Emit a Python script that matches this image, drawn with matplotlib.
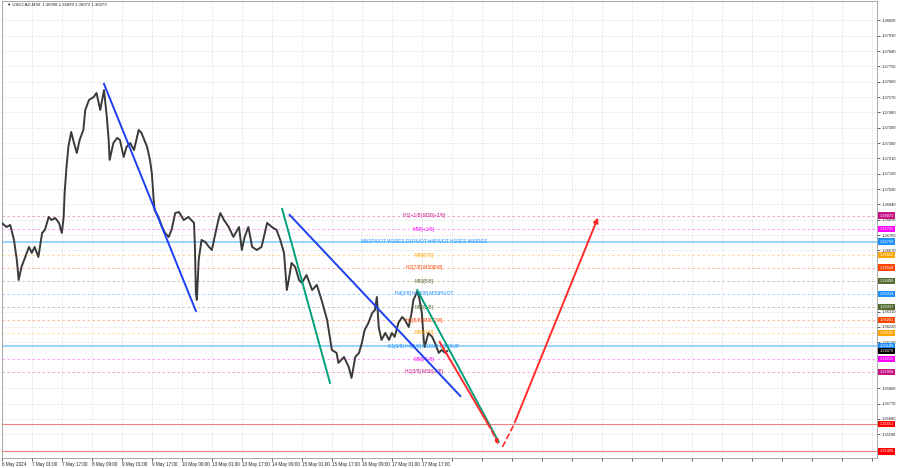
import matplotlib
matplotlib.use("Agg")
import matplotlib.pyplot as plt
import numpy as np

plt.rcParams['font.family'] = ['Liberation Sans', 'DejaVu Sans']

# USDCAD M30 closes, sampled (bar index, price)
bars = [0, 5, 9, 13, 16, 18, 21, 25, 29, 32, 35, 39, 43, 46, 50, 53, 57, 61, 64, 66,
        67, 69, 71, 74, 77, 80, 83, 87, 89, 93, 98, 101, 105, 109, 112, 114, 115, 119, 123, 126,
        130, 133, 137, 141, 146, 149, 155, 158, 160, 162, 163, 167, 171, 174, 178, 181, 185, 189, 194, 199,
        205, 206, 207, 208, 210, 213, 217, 221, 224, 227, 231, 233, 237, 242, 247, 253, 256, 259, 263, 267,
        272, 277, 283, 288, 293, 297, 301, 304, 306, 309, 313, 317, 320, 325, 331, 336, 341, 347, 352, 357,
        359, 365, 370, 373, 377, 381, 384, 387, 391, 395, 398, 400, 402, 405, 409, 413, 416, 419, 423, 427,
        430, 434, 437, 439, 443, 445, 448, 450, 451, 455, 459, 462, 466, 469, 473, 475]
closes = [1.36831, 1.36807, 1.36819, 1.36731, 1.36614, 1.36496, 1.36572, 1.36631, 1.36690, 1.36655,
          1.36690, 1.36631, 1.36772, 1.36790, 1.36866, 1.36848, 1.36860, 1.36831, 1.36772, 1.36866,
          1.37007, 1.37159, 1.37277, 1.37365, 1.37300, 1.37242, 1.37318, 1.37377, 1.37494, 1.37553,
          1.37570, 1.37594, 1.37494, 1.37611, 1.37453, 1.37318, 1.37201, 1.37300, 1.37330, 1.37318,
          1.37218, 1.37277, 1.37300, 1.37259, 1.37377, 1.37359, 1.37277, 1.37201, 1.37124, 1.36966,
          1.36907, 1.36866, 1.36807, 1.36772, 1.36749, 1.36790, 1.36889, 1.36895, 1.36848, 1.36866,
          1.36831, 1.36690, 1.36420, 1.36379, 1.36614, 1.36731, 1.36719, 1.36690, 1.36672, 1.36749,
          1.36848, 1.36889, 1.36848, 1.36807, 1.36749, 1.36807, 1.36672, 1.36749, 1.36807, 1.36690,
          1.36672, 1.36690, 1.36831, 1.36807, 1.36790, 1.36731, 1.36655, 1.36437, 1.36496, 1.36596,
          1.36572, 1.36496, 1.36479, 1.36525, 1.36437, 1.36467, 1.36379, 1.36261, 1.36085, 1.36068,
          1.36009, 1.36044, 1.35985, 1.35921, 1.36044, 1.36068, 1.36126, 1.36203, 1.36244, 1.36302,
          1.36320, 1.36396, 1.36220, 1.36144, 1.36185, 1.36144, 1.36185, 1.36162, 1.36244, 1.36279,
          1.36261, 1.36220, 1.36302, 1.36379, 1.36426, 1.36396, 1.36302, 1.36144, 1.36103, 1.36185,
          1.36162, 1.36126, 1.36068, 1.36085, 1.36068, 1.36079]

time_labels = ["6 May 2024", "7 May 01:00", "7 May 17:00", "8 May 09:00", "9 May 01:00",
               "9 May 17:00", "10 May 09:00", "13 May 01:00", "13 May 17:00", "14 May 09:00",
               "15 May 01:00", "15 May 17:00", "16 May 09:00", "17 May 01:00", "17 May 17:00"]

# Murrey / pivot levels
level_prices = [1.36873, 1.36795, 1.36720, 1.36642, 1.36568, 1.36490, 1.36414,
                1.36337, 1.36261, 1.36185, 1.36108, 1.36032, 1.35956]
level_texts = ["H1[+1/8] M30[+2/8]", "M30[+1/8]",
               "MN1PIVOT W1RES D1PIVOT H4PIVOT H1RES M30RES", "M30[7/8]",
               "H1[7/8] M30[6/8]", "M30[5/8]", "H4[3/8] H1[6/8] M30PIVOT", "M30[3/8]",
               "H1[5/8] M30[2/8]", "M30[1/8]", "D1[3/8] H4[2/8] H1SUP M30SUP",
               "M30[-1/8]", "H1[3/8] M30[-2/8]"]
level_colors = ["#C71585", "#FF00FF", "#1E90FF", "#FFA500", "#FF4500", "#556B2F", "#1E90FF",
                "#556B2F", "#FF4500", "#FFA500", "#1E90FF", "#FF00FF", "#C71585"]
target_prices = [1.35651, 1.35490]
last_price = 1.36079

# trend lines (bar, price)
blue_lines = [[(109, 1.37647), (207, 1.36314)], [(307, 1.36878), (489, 1.35815)]]
green_lines = [[(299, 1.36913), (350, 1.35892)], [(443, 1.36437), (530, 1.35545)]]
red_down = [(467, 1.36132), (521, 1.35627), (531, 1.35516)]
red_up = [(534, 1.35516), (546, 1.35645), (637, 1.36878)]

fig = plt.figure(figsize=(9, 4.68), dpi=100)
ax = fig.add_axes([0.002, 0.0214, 0.972, 0.9765])
ax.set_xlim(0, 933)
ax.set_ylim(1.35451, 1.38134)

# price scale, skipping the ticks hidden under a price tag
tagged = level_prices + target_prices + [last_price]
yt = [round(1.35500 + 0.0009 * i, 5) for i in range(29)]
yt = [v for v in yt if min(abs(v - p) for p in tagged) > 0.00016]
ax.set_yticks(yt)
ax.set_yticklabels(["%.5f" % v for v in yt])
xt = list(range(0, 933, 32))
ax.set_xticks(xt)
ax.set_xticklabels(time_labels + [""] * (len(xt) - len(time_labels)), ha='left')
ax.yaxis.tick_right()
ax.tick_params(axis='y', labelsize=2.9, length=2, pad=1.5, width=0.5, colors='#222222')
ax.tick_params(axis='x', labelsize=3.3, length=2, pad=1, width=0.5, colors='#222222')
ax.grid(True, color='#d8d8d8', linestyle=(0, (2, 2)), linewidth=0.5)
ax.set_axisbelow(True)
for s in ax.spines.values():
    s.set_color('#999999')
    s.set_linewidth(0.6)

# levels
for p, t, c in zip(level_prices, level_texts, level_colors):
    if t.startswith("MN1") or t.startswith("D1"):
        ax.axhline(p, color='#87CEFA', lw=1.2, zorder=1)
    else:
        ax.axhline(p, color=c, lw=0.6, ls=(0, (3, 3)), alpha=0.45, zorder=1)
    ax.text(450, p, t, color=c, fontsize=3.5, ha='center', va='center', zorder=4)
    ax.text(1.003, p, "%.5f" % p, transform=ax.get_yaxis_transform(), color='white',
            fontsize=2.8, va='center', ha='left', clip_on=False, zorder=6,
            bbox=dict(boxstyle='square,pad=0.35', fc=c, ec='none'))
for p in target_prices:
    ax.axhline(p, color='#F08080', lw=0.8, zorder=1)
    ax.text(1.003, p, "%.5f" % p, transform=ax.get_yaxis_transform(), color='white',
            fontsize=2.8, va='center', ha='left', clip_on=False, zorder=6,
            bbox=dict(boxstyle='square,pad=0.35', fc='#FF0000', ec='none'))
ax.text(1.003, last_price, "%.5f" % last_price, transform=ax.get_yaxis_transform(), color='white',
        fontsize=2.8, va='center', ha='left', clip_on=False, zorder=7,
        bbox=dict(boxstyle='square,pad=0.35', fc='black', ec='none'))

# price
ax.plot(bars, closes, color='#3a3a3a', lw=1.4, zorder=3)

for seg in blue_lines:
    ax.plot([seg[0][0], seg[1][0]], [seg[0][1], seg[1][1]], color='#1D3FEF', lw=1.4, zorder=5)
for seg in green_lines:
    ax.plot([seg[0][0], seg[1][0]], [seg[0][1], seg[1][1]], color='#00A07A', lw=1.4, zorder=5)

ax.plot([red_down[0][0], red_down[1][0]], [red_down[0][1], red_down[1][1]], color='#FF2A2A', lw=1.4, zorder=5)
ax.annotate("", xy=red_down[2], xytext=red_down[1],
            arrowprops=dict(arrowstyle='-|>', color='#FF2A2A', lw=1.2, ls='--', mutation_scale=6), zorder=5)
ax.plot([red_up[0][0], red_up[1][0]], [red_up[0][1], red_up[1][1]], color='#FF2A2A', lw=1.2, ls='--', zorder=5)
ax.annotate("", xy=red_up[2], xytext=red_up[1],
            arrowprops=dict(arrowstyle='-|>', color='#FF2A2A', lw=1.4, mutation_scale=7), zorder=5)

ax.text(0.006, 0.997, "\u25BC USDCAD,M30  1.36098 1.36099 1.36072 1.36079", transform=ax.transAxes,
        fontsize=3.1, va='top', ha='left', color='#222222')

fig.savefig("out.png", dpi=100)
